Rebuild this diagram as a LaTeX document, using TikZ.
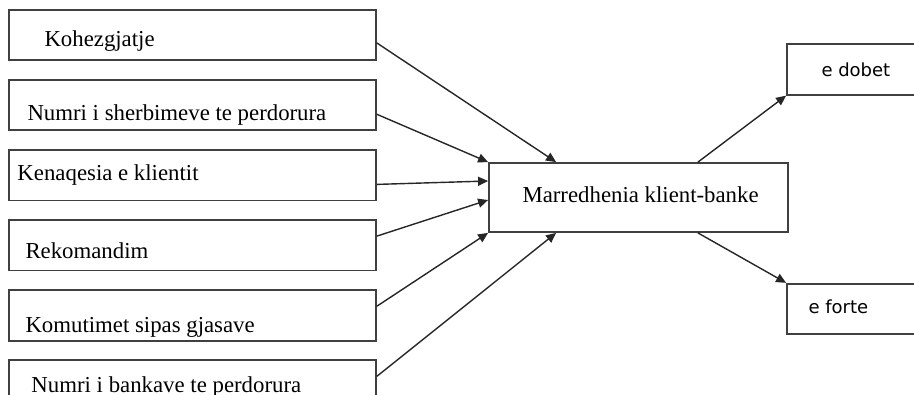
\documentclass[tikz,border=0pt]{standalone}
\usepackage{fontspec}
\setmainfont{Liberation Serif}
\newfontfamily\outfont{DejaVu Sans}
\usetikzlibrary{arrows.meta,positioning,calc}

\begin{document}
\begin{tikzpicture}[x=0.5pt,y=-0.5pt,
    box/.style={draw=black!75,line width=0.9pt,minimum width=183.5pt,minimum height=25.25pt,inner sep=0pt},
    txt/.style={anchor=base west,inner sep=0pt,font=\fontsize{11.4}{13}\selectfont},
    outtxt/.style={anchor=base west,inner sep=0pt,font=\outfont\fontsize{9}{11}\selectfont},
    link/.style={-{Triangle[length=5pt,width=4.5pt]},line width=0.7pt,draw=black!85}]
    \useasboundingbox (0,0) rectangle (914,395);
    \clip (0,0) rectangle (914,395);
    \node [box] (factor1) at (192.5,35) {};
    \node [box,below=8.9pt of factor1] (factor2) {};
    \node [box,below=8.9pt of factor2] (factor3) {};
    \node [box,below=8.9pt of factor3] (factor4) {};
    \node [box,below=8.9pt of factor4] (factor5) {};
    \node [box,below=8.9pt of factor5] (factor6) {};
    \node [box,minimum width=149.5pt,minimum height=34.5pt] (relation) at (638.5,197.5) {};
    \node [box,minimum width=90pt] (weak) at (877,69.5) {};
    \node [box,minimum width=90pt] (strong) at (877,309) {};
    \node [txt] (label1) at ($(factor1.north west)+(36,38)$) {Kohezgjatje};
    \node [txt] (label2) at ($(factor2.north west)+(19,42)$) {Numri i sherbimeve te perdorura};
    \node [txt] (label3) at ($(factor3.north west)+(9,31)$) {Kenaqesia e klientit};
    \node [txt] (label4) at ($(factor4.north west)+(17,39)$) {Rekomandim};
    \node [txt] (label5) at ($(factor5.north west)+(17,43)$) {Komutimet sipas gjasave};
    \node [txt] (label6) at ($(factor6.north west)+(23,33)$) {Numri i bankave te perdorura};
    \node [txt] (label7) at ($(relation.north west)+(34,40)$) {Marredhenia klient-banke};
    \node [outtxt] (label8) at ($(weak.north west)+(35,33)$) {e dobet};
    \node [outtxt] (label9) at ($(strong.north west)+(22,31)$) {e forte};
    \draw [link] ([yshift=-4pt]factor1.east) -- ([xshift=34pt]relation.north west);
    \draw [link] ([yshift=-4.6pt]factor2.east) -- (relation.north west);
    \draw [link] ([yshift=-4.6pt]factor3.east) -- ([yshift=8.25pt]relation.west);
    \draw [link] ([yshift=4.6pt]factor4.east) -- ([yshift=-1.25pt]relation.west);
    \draw [link] ([yshift=4.6pt]factor5.east) -- (relation.south west);
    \draw [link] ([yshift=4.6pt]factor6.east) -- ([xshift=34pt]relation.south west);
    \draw [link] ([xshift=-45.5pt]relation.north east) -- (weak.south west);
    \draw [link] ([xshift=-45.5pt]relation.south east) -- (strong.north west);
\end{tikzpicture}
\end{document}
